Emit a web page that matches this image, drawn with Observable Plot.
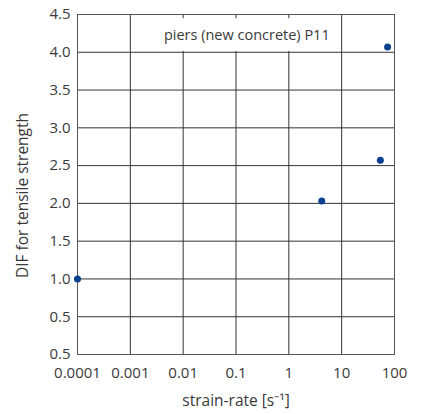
<!DOCTYPE html>
<html>
<head>
<meta charset="utf-8">
<script src="https://cdn.jsdelivr.net/npm/d3@7"></script>
<script src="https://cdn.jsdelivr.net/npm/@observablehq/plot@0.6"></script>
<style>
  html, body { margin: 0; padding: 0; background: #fff; }
  #chart { width: 422px; height: 414px; }
</style>
</head>
<body>
<div id="chart"></div>
<script>
// Data
const strainRate = [0.0001, 4.2, 54, 74];
const dif = [1.0, 2.03, 2.57, 4.07];

// Tick values and labels (as printed in the reference)
const xTickValues = [0.0001, 0.001, 0.01, 0.1, 1, 10, 100];
const xTickLabels = ["0.0001", "0.001", "0.01", "0.1", "1", "10", "100"];
const yTickValues = [0, 0.5, 1, 1.5, 2, 2.5, 3, 3.5, 4, 4.5];
const yTickLabels = ["0.5", "0.5", "1.0", "1.5", "2.0", "2.5", "3.0", "3.5", "4.0", "4.5"];

// Titles
const xLabel = "strain-rate [s\u207B\u00B9]";
const yLabel = "DIF for tensile strength";

// Annotation (in data coordinates)
const noteText = ["piers (new concrete) P11"];
const noteX = [0.16];
const noteY = [4.22];
const noteBoxX1 = [0.0033];
const noteBoxX2 = [7.6];
const noteBoxY1 = [4.01];
const noteBoxY2 = [4.445];

const points = strainRate.map((x, i) => ({x, y: dif[i]}));
const xTicks = xTickValues.map((v, i) => ({v, label: xTickLabels[i]}));
const note = noteText.map((t, i) => ({t, x: noteX[i], y: noteY[i], x1: noteBoxX1[i], x2: noteBoxX2[i], y1: noteBoxY1[i], y2: noteBoxY2[i]}));

const ink = "#3a3a3a";
const gridColor = "#333";

const chart = Plot.plot({
  width: 422,
  height: 414,
  marginLeft: 77,
  marginRight: 28,
  marginTop: 14,
  marginBottom: 60,
  style: {fontFamily: "'Open Sans', sans-serif", fontSize: "14px", color: ink, background: "#fff"},
  x: {type: "log", domain: [0.0001, 100], axis: null},
  y: {domain: [0, 4.5], axis: null},
  marks: [
    Plot.gridX(xTickValues, {stroke: gridColor, strokeOpacity: 1, strokeWidth: 1}),
    Plot.gridY(yTickValues, {stroke: gridColor, strokeOpacity: 1, strokeWidth: 1}),
    Plot.rect(note, {x1: "x1", x2: "x2", y1: "y1", y2: "y2", fill: "#fff"}),
    Plot.frame({stroke: "#555", strokeWidth: 1}),
    Plot.text(xTicks, {x: "v", text: "label", frameAnchor: "bottom", dy: 23, fontSize: 15, fill: ink, textAnchor: "middle"}),
    Plot.text(yTickValues, {y: d => d, text: (d, i) => yTickLabels[i], frameAnchor: "left", dx: -7, fontSize: 15, fill: ink, textAnchor: "end"}),
    Plot.text([xLabel], {text: d => d, frameAnchor: "bottom", dy: 51, fontSize: 15.5, fill: ink, textAnchor: "middle"}),
    Plot.text([yLabel], {text: d => d, frameAnchor: "left", rotate: -90, dx: -54, dy: 11, fontSize: 15.5, fill: ink, textAnchor: "middle"}),
    Plot.text(note, {x: "x", y: "y", text: "t", fontSize: 14.5, fill: ink, textAnchor: "middle"}),
    Plot.dot(points, {x: "x", y: "y", r: 3.5, fill: "#0a4190", stroke: "none", clip: false})
  ]
});
document.getElementById("chart").appendChild(chart);
</script>
</body>
</html>
